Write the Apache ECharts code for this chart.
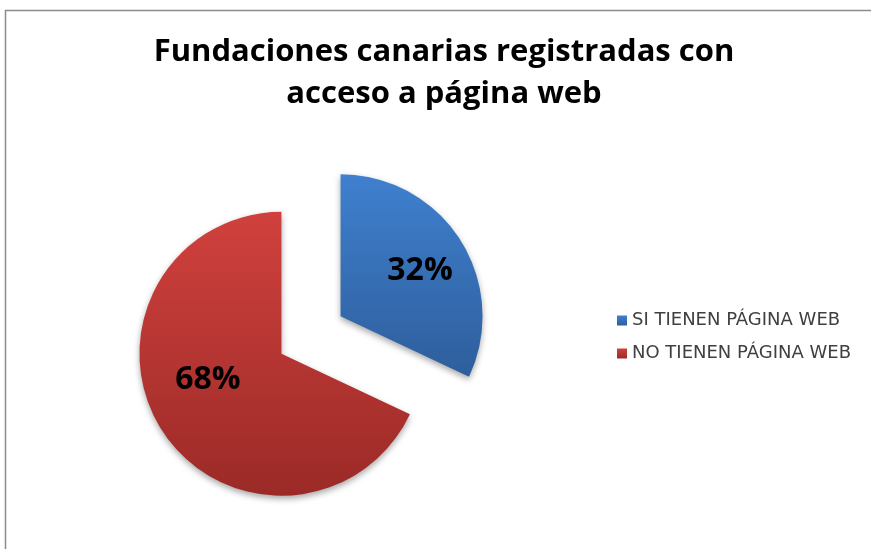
<!DOCTYPE html>
<html>
<head>
<meta charset="utf-8">
<script src="https://cdn.jsdelivr.net/npm/echarts@6/dist/echarts.min.js"></script>
<style>html,body{margin:0;padding:0;background:#fff}#c{width:871px;height:549px}</style>
</head>
<body>
<div id="c"></div>
<script>
var titleText = 'Fundaciones canarias registradas con\nacceso a página web';
var categories = ['SI TIENEN PÁGINA WEB', 'NO TIENEN PÁGINA WEB'];
var values = [32, 68];

var gradients = [
  new echarts.graphic.LinearGradient(0, 0, 0, 1, [{offset: 0, color: '#3F80CF'}, {offset: 1, color: '#2E5E9C'}]),
  new echarts.graphic.LinearGradient(0, 0, 0, 1, [{offset: 0, color: '#D0413D'}, {offset: 1, color: '#9B2A27'}])
];
var labelShift = [[17, -6], [-11, -14]];

var chart = echarts.init(document.getElementById('c'));
chart.setOption({
  animation: false,
  backgroundColor: '#ffffff',
  graphic: [{
    type: 'polyline',
    shape: {points: [[5.5, 560], [5.5, 10.5], [880, 10.5]]},
    style: {stroke: '#8c8c8c', lineWidth: 1.5, fill: null},
    silent: true
  }],
  title: {
    text: titleText,
    left: 444,
    textAlign: 'center',
    top: 31,
    padding: 0,
    textStyle: {fontFamily: 'Open Sans', fontWeight: 'bold', fontSize: 31, lineHeight: 42, color: '#000'}
  },
  legend: {
    orient: 'vertical',
    left: 617,
    top: 311,
    padding: 0,
    itemWidth: 10,
    itemHeight: 10,
    itemGap: 14,
    icon: 'rect',
    data: categories,
    textStyle: {fontFamily: 'DejaVu Sans', fontSize: 18, lineHeight: 19, color: '#404040'}
  },
  series: [{
    type: 'pie',
    center: [311, 335],
    radius: [0, 142],
    startAngle: 90,
    clockwise: true,
    selectedMode: 'multiple',
    selectedOffset: 35,
    emphasis: {disabled: true},
    label: {
      show: true,
      position: 'inside',
      formatter: '{d}%',
      fontFamily: 'Open Sans',
      fontWeight: 'bold',
      fontSize: 32,
      color: '#000'
    },
    labelLayout: function (p) {
      return {dx: labelShift[p.dataIndex][0], dy: labelShift[p.dataIndex][1]};
    },
    labelLine: {show: false},
    itemStyle: {shadowBlur: 6, shadowOffsetY: 3, shadowColor: 'rgba(0,0,0,0.35)'},
    data: categories.map(function (n, i) {
      return {
        name: n,
        value: values[i],
        selected: true,
        itemStyle: {color: gradients[i]}
      };
    })
  }]
});
</script>
</body>
</html>
